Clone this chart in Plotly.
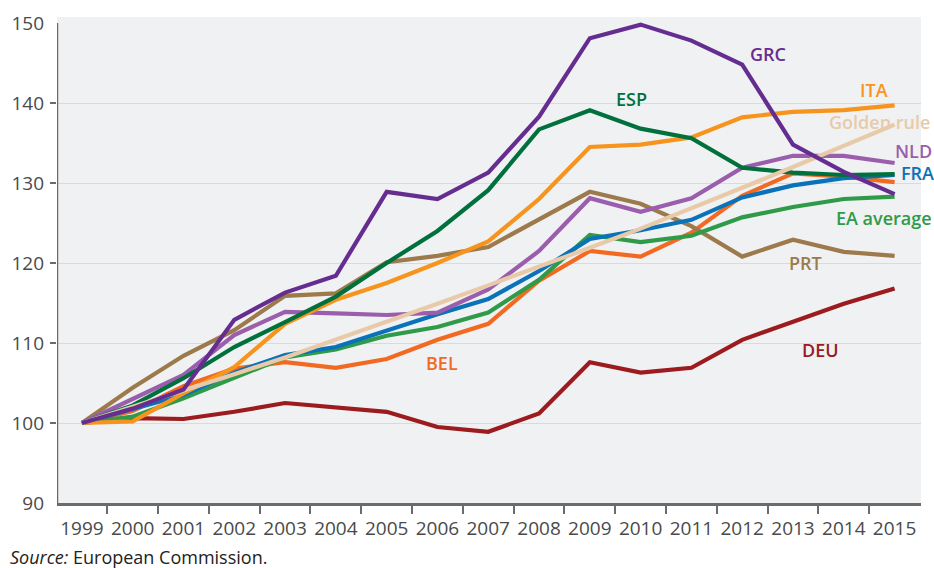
import plotly.graph_objects as go

# Index of unit labour costs, 1999 = 100
years = [str(y) for y in range(1999, 2016)]

grc = [100, 101.8, 104.2, 112.9, 116.3, 118.4, 128.9, 128.0, 131.3, 138.3, 148.1, 149.8, 147.8, 144.8, 134.8, 131.4, 128.6]
esp = [100, 102.2, 105.6, 109.5, 112.6, 115.8, 120.0, 124.0, 129.1, 136.7, 139.1, 136.8, 135.6, 131.9, 131.3, 131.0, 131.1]
ita = [100, 100.2, 103.7, 107.0, 112.4, 115.4, 117.5, 120.0, 122.7, 128.0, 134.5, 134.8, 135.7, 138.2, 138.9, 139.1, 139.7]
nld = [100, 103.0, 106.0, 111.0, 113.9, 113.7, 113.5, 113.8, 116.7, 121.5, 128.1, 126.4, 128.1, 131.9, 133.4, 133.4, 132.5]
fra = [100, 101.7, 103.5, 106.3, 108.5, 109.5, 111.6, 113.6, 115.5, 119.0, 123.0, 124.1, 125.4, 128.2, 129.7, 130.6, 131.0]
ea = [100, 100.8, 103.1, 105.6, 108.2, 109.2, 110.9, 112.0, 113.8, 117.9, 123.5, 122.6, 123.4, 125.7, 127.0, 128.0, 128.3]
prt = [100, 104.4, 108.4, 111.6, 115.9, 116.2, 120.1, 120.9, 122.0, 125.4, 128.9, 127.4, 124.6, 120.8, 122.9, 121.4, 120.9]
deu = [100, 100.6, 100.5, 101.4, 102.5, 101.9, 101.4, 99.5, 98.9, 101.2, 107.6, 106.3, 106.9, 110.4, 112.6, 114.9, 116.8]
bel = [100, 101.5, 104.6, 106.8, 107.6, 106.9, 108.0, 110.4, 112.4, 117.8, 121.5, 120.8, 123.8, 128.4, 131.2, 130.8, 130.1]
golden = [100, 102.0, 104.0, 106.1, 108.2, 110.4, 112.6, 114.9, 117.2, 119.5, 121.9, 124.3, 126.8, 129.4, 132.0, 134.6, 137.3]

y_ticks = [90, 100, 110, 120, 130, 140, 150]
grid_vals = [100, 110, 120, 130, 140]

# name, values, colour, label x (category index), label y (value)
series = [
    ("DEU", deu, "#9b1b1f", 14.55, 109.1),
    ("BEL", bel, "#f26a21", 7.08, 107.5),
    ("PRT", prt, "#9c7a4b", 14.25, 120.0),
    ("EA average", ea, "#2f9a48", 15.8, 125.6),
    ("FRA", fra, "#0a72b9", 16.45, 131.2),
    ("NLD", nld, "#9a5eac", 16.37, 134.0),
    ("ITA", ita, "#f7941e", 15.6, 141.6),
    ("ESP", esp, "#00703c", 10.83, 140.5),
    ("Golden rule", golden, "#e8caa9", 15.7, 137.6),
    ("GRC", grc, "#662d91", 13.5, 146.1),
]

x_idx = list(range(len(years)))

fig = go.Figure()
for name, vals, color, lx, ly in series:
    fig.add_trace(go.Scatter(
        x=x_idx, y=vals, mode="lines", name=name,
        line=dict(color=color, width=4.2),
        hoverinfo="skip", showlegend=False,
    ))
    fig.add_annotation(
        x=lx, y=ly, xref="x", yref="y", text=name, showarrow=False,
        font=dict(family="Open Sans", size=18, color=color, weight=600),
        xanchor="center", yanchor="middle",
    )

# left axis line, stopping at 150
fig.add_shape(type="line", xref="x", yref="y", x0=-0.49, x1=-0.49, y0=90, y1=150,
              line=dict(color="#6b6b6b", width=2.5), layer="above")

fig.add_annotation(
    xref="paper", yref="paper", x=-0.057, y=-0.111, xanchor="left", yanchor="middle",
    text="<i>Source:</i> European Commission.", showarrow=False,
    font=dict(family="Open Sans", size=18, color="#222222"),
)

fig.update_layout(
    width=934, height=568,
    margin=dict(l=57, r=13, t=17, b=65),
    paper_bgcolor="white",
    plot_bgcolor="#f0f1f3",
    font=dict(family="Open Sans", color="#4a4a4a"),
    showlegend=False,
)

fig.update_xaxes(
    range=[-0.49, 16.52], automargin=False,
    tickvals=x_idx, ticktext=years, ticks="",
    tickfont=dict(family="Open Sans", size=19, color="#4a4a4a"),
    showgrid=False, zeroline=False,
    showline=True, linecolor="#6b6b6b", linewidth=3,
    minor=dict(tickvals=[i + 0.5 for i in range(16)], ticks="outside",
               ticklen=8, tickcolor="#6b6b6b", tickwidth=2, showgrid=False),
    ticklabelstandoff=6,
)

fig.update_yaxes(
    range=[90, 150.75], automargin=False,
    tickvals=y_ticks, ticks="",
    tickfont=dict(family="Open Sans", size=19, color="#4a4a4a"),
    showgrid=False, zeroline=False, showline=False,
    minor=dict(tickvals=grid_vals, ticks="outside", ticklen=6, tickcolor="#6b6b6b",
               tickwidth=2, showgrid=True, gridcolor="#d9dadd", gridwidth=1.2),
    ticklabelstandoff=12,
)

fig.write_html("out.html")
